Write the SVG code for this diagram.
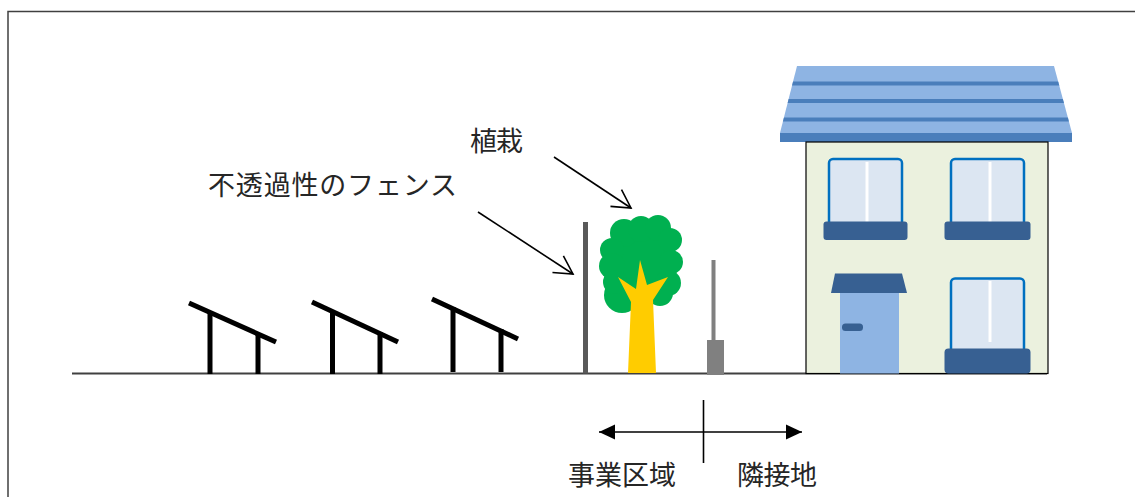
<svg xmlns="http://www.w3.org/2000/svg" width="1135" height="497" viewBox="0 0 1135 497">
  <style>
    .lbl { font-family: "Noto Sans CJK JP", "Noto Sans", sans-serif; font-size: 27px; fill: #262626; }
    .panel { stroke: #000; stroke-width: 5; fill: none; }
    .win { fill: #DCE6F2; stroke: #0070C0; stroke-width: 2.5; }
    .sill { fill: #376092; }
    .divider { stroke: #fff; stroke-width: 3; }
    .lead { stroke: #000; stroke-width: 1.6; fill: none; }
  </style>
  <defs>
    <marker id="open-head" markerUnits="userSpaceOnUse" markerWidth="24" markerHeight="24" viewBox="-20 -12 22 24" refX="0" refY="0" orient="auto">
      <path d="M-18,-10 L0,0 L-18,10" fill="none" stroke="#000" stroke-width="1.6"/>
    </marker>
    <marker id="solid-head" markerUnits="userSpaceOnUse" markerWidth="18" markerHeight="18" viewBox="-17 -9 18 18" refX="0" refY="0" orient="auto-start-reverse">
      <path d="M-16,-7.5 L0,0 L-16,7.5 Z" fill="#000"/>
    </marker>
    <clipPath id="roof-clip">
      <polygon points="797,66 1054,66 1072,133 780,133"/>
    </clipPath>
  </defs>

  <rect width="1135" height="497" fill="#fff"/>
  <!-- outer frame (runs past the right and bottom edges) -->
  <rect x="8" y="11.5" width="1200" height="600" fill="none" stroke="#404040" stroke-width="1.5"/>

  <!-- ground -->
  <line x1="72" y1="373.5" x2="1047" y2="373.5" stroke="#404040" stroke-width="2"/>

  <!-- solar arrays -->
  <g id="panel1">
    <line class="panel" x1="189" y1="303" x2="276" y2="342"/>
    <line class="panel" x1="210" y1="311" x2="210" y2="374"/>
    <line class="panel" x1="258" y1="333" x2="258" y2="374"/>
  </g>
  <g id="panel2">
    <line class="panel" x1="312" y1="302" x2="398" y2="342"/>
    <line class="panel" x1="332.5" y1="310" x2="332.5" y2="374"/>
    <line class="panel" x1="380" y1="332" x2="380" y2="374"/>
  </g>
  <g id="panel3">
    <line class="panel" x1="432" y1="299" x2="518" y2="339"/>
    <line class="panel" x1="453" y1="307" x2="453" y2="372"/>
    <line class="panel" x1="501" y1="329" x2="501" y2="372"/>
  </g>

  <!-- opaque fence -->
  <g id="fence">
    <rect x="583" y="222" width="5" height="151.5" fill="#595959"/>
  </g>

  <!-- planting -->
  <g id="tree">
    <g fill="#00B050">
      <ellipse cx="641" cy="266" rx="36" ry="40"/>
      <circle cx="624" cy="233" r="14"/>
      <circle cx="641" cy="229" r="13"/>
      <circle cx="658" cy="228" r="13"/>
      <circle cx="670" cy="240" r="12"/>
      <circle cx="612" cy="250" r="12"/>
      <circle cx="612" cy="266" r="13"/>
      <circle cx="622" cy="295" r="18"/>
      <circle cx="671" cy="262" r="12"/>
      <circle cx="668" cy="283" r="13"/>
      <circle cx="660" cy="293" r="13"/>
      <circle cx="615" cy="282" r="12"/>
    </g>
    <polygon fill="#FFCC00" points="640,260 647,285 668,277 653,300 656,373 628,373 631,302 618,277 636,289"/>
  </g>

  <!-- boundary post -->
  <g id="post">
    <rect x="711.5" y="260" width="4" height="82" fill="#808080"/>
    <rect x="707" y="340" width="17" height="35" fill="#808080"/>
  </g>

  <!-- neighbouring house -->
  <g id="house">
    <polygon points="797,66 1054,66 1072,133 780,133" fill="#8EB4E3"/>
    <g clip-path="url(#roof-clip)" fill="#4A7EBB">
      <rect x="770" y="81.5" width="310" height="4"/>
      <rect x="770" y="99" width="310" height="4"/>
      <rect x="770" y="117.5" width="310" height="4"/>
    </g>
    <rect x="780" y="133" width="292" height="9" fill="#4A7EBB"/>
    <rect x="806" y="142" width="242" height="231.5" fill="#EBF1DE" stroke="#000" stroke-width="1.2"/>

    <rect class="win" x="829" y="159" width="73" height="70" rx="4"/>
    <line class="divider" x1="867" y1="162" x2="867" y2="222"/>
    <rect class="sill" x="823.5" y="221.5" width="84" height="18.5" rx="3"/>

    <rect class="win" x="951" y="159" width="73" height="70" rx="4"/>
    <line class="divider" x1="990" y1="162" x2="990" y2="222"/>
    <rect class="sill" x="944.5" y="221.5" width="86" height="18.5" rx="3"/>

    <rect class="win" x="951" y="278.5" width="73" height="75" rx="4"/>
    <line class="divider" x1="990" y1="281" x2="990" y2="342"/>
    <rect class="sill" x="944.5" y="348.5" width="86" height="25" rx="4"/>

    <polygon class="sill" points="835,273.5 902,273.5 907,293 831,293"/>
    <rect x="840" y="293" width="59" height="80.5" fill="#8EB4E3"/>
    <rect class="sill" x="842" y="323.5" width="21" height="7.5" rx="3.5"/>
  </g>

  <!-- leaders and boundary arrow -->
  <g id="connectors">
    <line class="lead" x1="554" y1="157" x2="631" y2="208" marker-end="url(#open-head)"/>
    <line class="lead" x1="478" y1="212" x2="573" y2="274" marker-end="url(#open-head)"/>
    <line class="lead" x1="599" y1="432" x2="802" y2="432" marker-start="url(#solid-head)" marker-end="url(#solid-head)"/>
    <line class="lead" x1="703.5" y1="400" x2="703.5" y2="463"/>
  </g>

  <!-- labels -->
  <g id="labels">
    <text class="lbl" x="208" y="195" font-size="26" textLength="249" lengthAdjust="spacing">不透過性のフェンス</text>
    <text class="lbl" x="470" y="151" textLength="53" lengthAdjust="spacing">植栽</text>
    <text class="lbl" x="568" y="485" textLength="108" lengthAdjust="spacing">事業区域</text>
    <text class="lbl" x="737" y="485" textLength="80" lengthAdjust="spacing">隣接地</text>
  </g>
</svg>
